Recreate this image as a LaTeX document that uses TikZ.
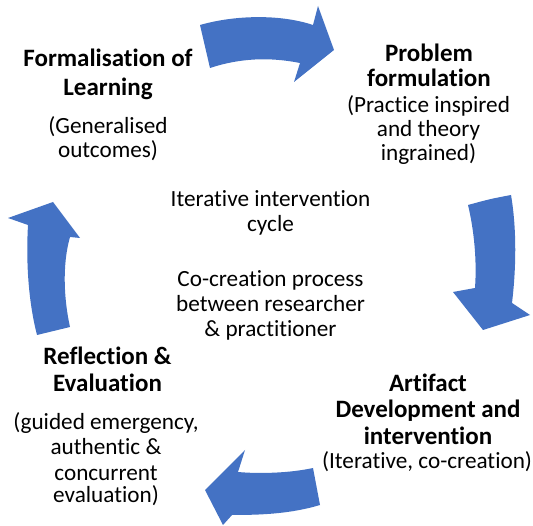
\documentclass[tikz,border=0pt]{standalone}
\usepackage{fontspec}
\setmainfont{Carlito}[Ligatures=NoCommon]
\definecolor{arrowblue}{HTML}{4472C4}
\begin{document}
\begin{tikzpicture}[x=1pt,y=-1pt,
  ttl/.style={font=\fontsize{25}{28}\selectfont\bfseries, anchor=base, inner sep=0pt},
  txt/.style={font=\fontsize{23.2}{25}\selectfont, anchor=base, inner sep=0pt},
  blockarrow/.style={fill=arrowblue, draw=none}]
\useasboundingbox[fill=white] (0,0) rectangle (533,526);

% curved block arrows
\fill[blockarrow] (200,25) .. controls (235,15) and (280,14) .. (313,25)
  -- (318,6) -- (334,50) -- (294,82) -- (300,63)
  .. controls (270,57) and (240,58) .. (210,68) -- cycle;
\fill[blockarrow] (468,205) .. controls (490,199) .. (511,195)
  .. controls (517,230) and (516,270) .. (512,303)
  -- (530,315) -- (483,330) -- (453,292) -- (475,288)
  .. controls (477,260) and (474,230) .. cycle;
\fill[blockarrow] (313,468) -- (320,505)
  .. controls (290,514) and (260,515) .. (232,515)
  -- (223,525) -- (205,490) -- (245,450) -- (238,472)
  .. controls (260,474) and (290,473) .. cycle;
\fill[blockarrow] (53,202) -- (80,238) -- (70,237)
  .. controls (62,265) and (64,300) .. (70,327)
  -- (37,335) .. controls (28,300) and (26,260) .. (28,225)
  -- (8,218) -- cycle;

% top left
\node[ttl] (tl1) at (108,67) {Formalisation of};
\node[ttl] (tl2) at (108,96) {Learning};
\node[txt] (tl3) at (108,134) {(Generalised};
\node[txt] (tl4) at (108,158) {outcomes)};

% top right
\node[ttl] (tr1) at (429,62) {Problem};
\node[ttl] (tr2) at (429,87) {formulation};
\node[txt] (tr3) at (428.5,113) {(Practice inspired};
\node[txt] (tr4) at (428.5,137) {and theory};
\node[txt] (tr5) at (428.5,161) {ingrained)};

% centre
\node[txt] (c1) at (270.5,207) {Iterative intervention};
\node[txt] (c2) at (270.5,232) {cycle};
\node[txt] (c3) at (270.5,287) {Co-creation process};
\node[txt] (c4) at (270.5,312) {between researcher};
\node[txt] (c5) at (270.5,337) {\& practitioner};

% bottom left
\node[ttl] (bl1) at (107.5,365) {Reflection \&};
\node[ttl] (bl2) at (107.5,392) {Evaluation};
\node[txt] (bl3) at (106,430) {(guided emergency,};
\node[txt] (bl4) at (106,455) {authentic \&};
\node[txt] (bl5) at (106,480) {concurrent};
\node[txt] (bl6) at (106,503) {evaluation)};

% bottom right
\node[ttl] (br1) at (428,392) {Artifact};
\node[ttl] (br2) at (428,418) {Development and};
\node[ttl] (br3) at (428,445) {intervention};
\node[txt] (br4) at (427,468) {(Iterative, co-creation)};
\end{tikzpicture}
\end{document}
